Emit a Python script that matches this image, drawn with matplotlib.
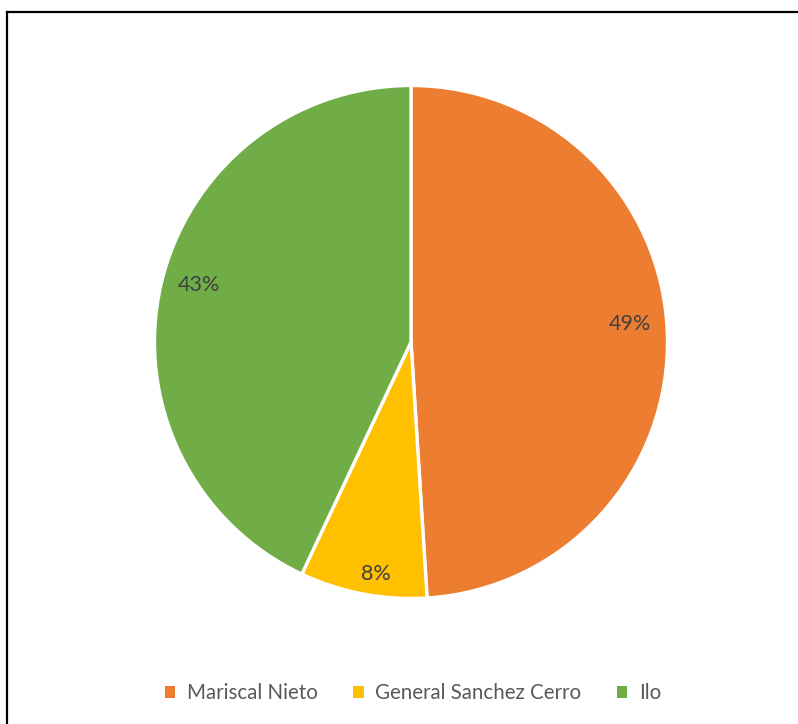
import matplotlib
matplotlib.use("Agg")
import matplotlib.pyplot as plt
import numpy as np
from matplotlib.patches import Patch
from matplotlib.lines import Line2D

categories = ["Mariscal Nieto", "General Sanchez Cerro", "Ilo"]
values = [49, 8, 43]
colors = ["#ED7D31", "#FFC000", "#70AD47"]
label_dist = [0.855, 0.91, 0.86]
label_nudge_px = [(0, 11), (9, -3), (3, 9)]

plt.rcParams['font.family'] = ['Lato', 'DejaVu Sans']
W, H = 798, 724
fig = plt.figure(figsize=(W/100, H/100), dpi=100)
cx, cy, r = 411, 342, 256.5
ax = fig.add_axes([(cx - r)/W, (H - cy - r)/H, 2*r/W, 2*r/H])
wedges, _ = ax.pie(values, colors=colors, startangle=90, counterclock=False,
                   radius=1.0, wedgeprops=dict(edgecolor="white", linewidth=2.4))
ax.set_xlim(-1, 1); ax.set_ylim(-1, 1)
ax.set_aspect('equal')
ax.axis('off')

for w, v, d, nud in zip(wedges, values, label_dist, label_nudge_px):
    ang = np.deg2rad((w.theta1 + w.theta2) / 2)
    ax.annotate(f"{v}%", xy=(d*np.cos(ang), d*np.sin(ang)), xytext=nud,
                textcoords='offset pixels', ha='center', va='center',
                fontsize=15.5, color="#404040")

handles = [Patch(facecolor=c, edgecolor='none') for c in colors]
fig.legend(handles, categories, loc='center', bbox_to_anchor=(0.5175, 1 - 693/H),
           ncol=3, frameon=False, fontsize=14.8, labelcolor="#595959",
           handlelength=0.5, handleheight=0.5, handletextpad=0.55, columnspacing=1.75)

fig.add_artist(Line2D([7/W, 7/W], [0, 1 - 12/H], transform=fig.transFigure, color='black', lw=1.6))
fig.add_artist(Line2D([7/W, 1], [1 - 12/H, 1 - 12/H], transform=fig.transFigure, color='black', lw=1.6))

fig.savefig("out.png", dpi=100, facecolor='white')
